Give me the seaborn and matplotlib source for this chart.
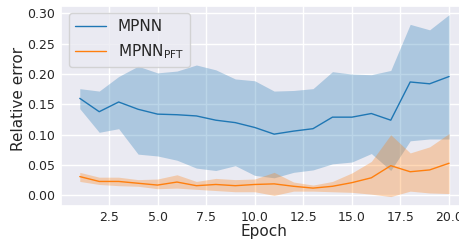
import matplotlib
matplotlib.use("Agg")
import matplotlib.pyplot as plt
import seaborn as sns

epochs = list(range(1, 21))

mpnn_mean = [0.160, 0.138, 0.154, 0.142, 0.134, 0.133, 0.131, 0.124, 0.120, 0.112,
             0.101, 0.106, 0.110, 0.129, 0.129, 0.135, 0.124, 0.187, 0.184, 0.196]
mpnn_upper = [0.176, 0.172, 0.196, 0.213, 0.202, 0.205, 0.215, 0.207, 0.192, 0.189,
              0.172, 0.173, 0.176, 0.204, 0.200, 0.199, 0.206, 0.282, 0.273, 0.298]
mpnn_lower = [0.143, 0.104, 0.110, 0.068, 0.065, 0.058, 0.045, 0.041, 0.049, 0.033,
              0.029, 0.038, 0.042, 0.052, 0.055, 0.069, 0.041, 0.090, 0.093, 0.093]

pft_mean = [0.031, 0.023, 0.023, 0.020, 0.017, 0.022, 0.016, 0.018, 0.016, 0.018,
            0.019, 0.015, 0.012, 0.015, 0.021, 0.029, 0.049, 0.039, 0.042, 0.053]
pft_upper = [0.038, 0.030, 0.030, 0.026, 0.027, 0.034, 0.023, 0.028, 0.026, 0.027,
             0.038, 0.022, 0.017, 0.023, 0.037, 0.056, 0.100, 0.070, 0.080, 0.102]
pft_lower = [0.023, 0.018, 0.016, 0.015, 0.011, 0.012, 0.010, 0.008, 0.006, 0.006,
             0.000, 0.007, 0.007, 0.006, 0.005, 0.002, -0.002, 0.007, 0.004, 0.003]

sns.set_theme(style="darkgrid", palette="tab10")
plt.rcParams["font.family"] = ["DejaVu Sans"]

fig = plt.figure(figsize=(4.59, 2.42), dpi=100)
ax = fig.add_axes([0.1336, 0.150, 0.885, 0.827])

blue, orange = sns.color_palette("tab10")[0], sns.color_palette("tab10")[1]

sns.lineplot(x=epochs, y=mpnn_mean, ax=ax, color=blue, linewidth=1.0, label="MPNN")
ax.fill_between(epochs, mpnn_lower, mpnn_upper, color=blue, alpha=0.3, linewidth=0)
sns.lineplot(x=epochs, y=pft_mean, ax=ax, color=orange, linewidth=1.0, label=r"MPNN$_\mathrm{PFT}$")
ax.fill_between(epochs, pft_lower, pft_upper, color=orange, alpha=0.3, linewidth=0)

ax.set_xlim(0.05, 20.95)
ax.set_ylim(-0.017, 0.313)
ax.set_xticks([2.5, 5.0, 7.5, 10.0, 12.5, 15.0, 17.5, 20.0])
ax.set_yticks([0.00, 0.05, 0.10, 0.15, 0.20, 0.25, 0.30])
ax.tick_params(axis="x", labelsize=9, length=0, pad=4)
ax.tick_params(axis="y", labelsize=9, length=0, pad=4.5)
ax.set_xlabel("Epoch", fontsize=11)
ax.set_ylabel("Relative error", fontsize=11)
ax.xaxis.set_label_coords(0.5, -0.092)
ax.yaxis.set_label_coords(-0.087, 0.535)
ax.legend(loc="upper left", fontsize=11, frameon=True)

fig.savefig("out.png", dpi=100)
